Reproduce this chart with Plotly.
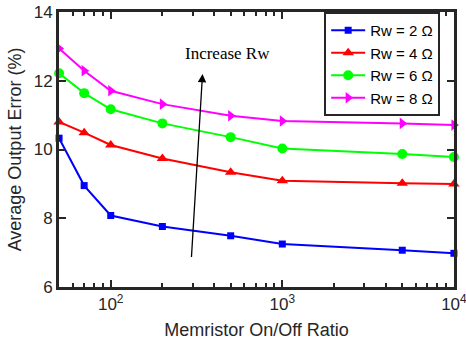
import plotly.graph_objects as go

ratios = [50, 70, 100, 200, 500, 1000, 5000, 10000]
rw2 = [10.33, 8.95, 8.08, 7.76, 7.49, 7.25, 7.07, 6.98]
rw4 = [10.80, 10.49, 10.13, 9.74, 9.34, 9.09, 9.02, 9.00]
rw6 = [12.22, 11.64, 11.17, 10.76, 10.36, 10.03, 9.87, 9.78]
rw8 = [12.94, 12.29, 11.71, 11.32, 10.98, 10.83, 10.76, 10.71]

x_major = [100, 1000, 10000]
x_major_text = ["10<sup>2</sup>", "10<sup>3</sup>", "10<sup>4</sup>"]
x_minor = [60, 70, 80, 90, 200, 300, 400, 500, 600, 700, 800, 900,
           2000, 3000, 4000, 5000, 6000, 7000, 8000, 9000]
y_ticks = [6, 8, 10, 12, 14]

series = [
    ("Rw = 2 Ω", rw2, "#0000ff", "square", 7),
    ("Rw = 4 Ω", rw4, "#ff0000", "triangle-up", 10),
    ("Rw = 6 Ω", rw6, "#00ff00", "circle", 10),
    ("Rw = 8 Ω", rw8, "#ff00ff", "triangle-right", 10),
]

fig = go.Figure()
for name, vals, col, sym, sz in series:
    fig.add_trace(go.Scatter(
        x=ratios, y=vals, name=name, mode="lines+markers",
        line=dict(color=col, width=2),
        marker=dict(symbol=sym, size=sz, color=col),
        cliponaxis=False,
    ))
# empty trace to activate the mirrored top/right axes
fig.add_trace(go.Scatter(x=[], y=[], xaxis="x2", yaxis="y2", showlegend=False, hoverinfo="skip"))

fig.add_annotation(
    x=2.535, y=12.2, xref="x", yref="y", ax=2.47, ay=6.83, axref="x", ayref="y",
    showarrow=True, arrowhead=2, arrowsize=1.3, arrowwidth=1.3, arrowcolor="black", text="",
)
fig.add_annotation(
    x=2.68, y=12.8, xref="x", yref="y", text="Increase Rw", showarrow=False,
    font=dict(family="Liberation Serif", size=17, color="black"),
)

DARK = "#262626"
common = dict(
    showline=True, linecolor=DARK, linewidth=3, mirror=True,
    ticks="inside", tickcolor=DARK, tickwidth=2, ticklen=7,
    showgrid=False, zeroline=False, automargin=False,
    tickfont=dict(family="Liberation Sans", size=17, color=DARK),
)
xr = [1.6985, 4.0005]
minor_x = dict(ticks="inside", ticklen=4, tickwidth=2, tickcolor=DARK,
               tickvals=x_minor, showgrid=False)

fig.update_layout(
    width=466, height=354,
    margin=dict(l=59, r=12, t=12, b=67),
    plot_bgcolor="white", paper_bgcolor="white",
    xaxis=dict(
        type="log", range=xr, tickvals=x_major, ticktext=x_major_text,
        ticklabeloverflow="allow", minor=minor_x,
        title=dict(text="Memristor On/Off Ratio", font=dict(family="Liberation Sans", size=18, color=DARK), standoff=10),
        **common,
    ),
    yaxis=dict(
        range=[6, 14], tickvals=y_ticks,
        title=dict(text="Average Output Error (%)", font=dict(family="Liberation Sans", size=18, color=DARK), standoff=8),
        **common,
    ),
    xaxis2=dict(
        type="log", range=xr, tickvals=x_major, overlaying="x", side="top", anchor="y",
        showticklabels=False, minor=minor_x, **common,
    ),
    yaxis2=dict(
        range=[6, 14], tickvals=y_ticks, overlaying="y", side="right", anchor="x",
        showticklabels=False, **common,
    ),
    legend=dict(
        x=0.965, y=1.0, xanchor="right", yanchor="top",
        bordercolor=DARK, borderwidth=2, bgcolor="white",
        font=dict(family="Liberation Sans", size=15, color="black"),
        tracegroupgap=0, itemwidth=34,
    ),
)

fig.write_html("out.html")
